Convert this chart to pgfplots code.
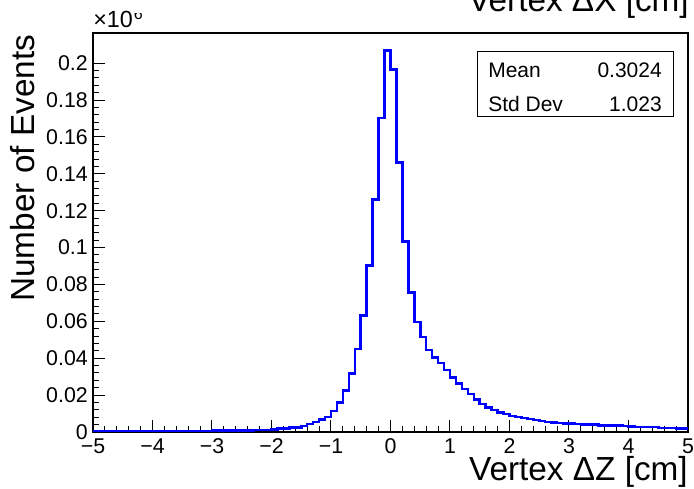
\documentclass[border=0pt]{standalone}
\usepackage{fontspec}
\setmainfont{Liberation Sans}
\usepackage{pgfplots}
\pgfplotsset{compat=1.18}
\definecolor{rootblue}{RGB}{0,0,255}
\begin{document}
\begin{tikzpicture}
\path[use as bounding box] (-69.75pt,-42.75pt) rectangle (450.75pt,324pt);
\begin{axis}[
  scale only axis, width=446.25pt, height=299.25pt,
  at={(0,0)}, anchor=south west,
  xmin=-5, xmax=5, ymin=0, ymax=0.2164,
  axis line style={black, line width=0.8pt},
  xtick={-5,-4,-3,-2,-1,0,1,2,3,4,5},
  xticklabels={−5,−4,−3,−2,−1,0,1,2,3,4,5},
  minor x tick num=4,
  ytick={0,0.02,0.04,0.06,0.08,0.1,0.12,0.14,0.16,0.18,0.2},
  yticklabels={0,0.02,0.04,0.06,0.08,0.1,0.12,0.14,0.16,0.18,0.2},
  minor y tick num=4,
  xtick pos=left, ytick pos=left,
  tick align=inside,
  major tick length=9pt, minor tick length=4.5pt,
  every tick/.style={black, line width=0.75pt},
  tick label style={font=\fontsize{16}{18}\selectfont},
  xticklabel style={anchor=base, yshift=-16.5pt, inner sep=0pt},
  yticklabel style={anchor=east, xshift=-3.75pt, inner sep=0pt},
]
\addplot[const plot, draw=rootblue, line width=1.9pt] table {
x y
-5.0 0.0003
-4.9 0.0003
-4.8 0.0003
-4.7 0.0003
-4.6 0.0003
-4.5 0.0003
-4.4 0.0003
-4.3 0.0003
-4.2 0.0004
-4.1 0.0004
-4.0 0.0004
-3.9 0.0004
-3.8 0.0004
-3.7 0.0004
-3.6 0.0005
-3.5 0.0005
-3.4 0.0006
-3.3 0.0006
-3.2 0.0006
-3.1 0.0006
-3.0 0.0007
-2.9 0.0007
-2.8 0.0007
-2.7 0.0008
-2.6 0.0008
-2.5 0.0008
-2.4 0.0008
-2.3 0.0012
-2.2 0.0012
-2.1 0.0012
-2.0 0.0013
-1.9 0.0018
-1.8 0.0019
-1.7 0.0023
-1.6 0.0024
-1.5 0.0033
-1.4 0.0043
-1.3 0.0054
-1.2 0.0067
-1.1 0.0081
-1.0 0.0114
-0.9 0.0159
-0.8 0.0224
-0.7 0.0318
-0.6 0.0450
-0.5 0.0633
-0.4 0.0902
-0.3 0.1262
-0.2 0.1702
-0.1 0.2068
0.0 0.1967
0.1 0.1461
0.2 0.1034
0.3 0.0758
0.4 0.0597
0.5 0.0514
0.6 0.0445
0.7 0.0405
0.8 0.0373
0.9 0.0336
1.0 0.0296
1.1 0.0264
1.2 0.0233
1.3 0.0206
1.4 0.0177
1.5 0.0152
1.6 0.0134
1.7 0.0119
1.8 0.0107
1.9 0.0098
2.0 0.0088
2.1 0.0081
2.2 0.0076
2.3 0.0070
2.4 0.0065
2.5 0.0060
2.6 0.0055
2.7 0.0051
2.8 0.0049
2.9 0.0047
3.0 0.0046
3.1 0.0043
3.2 0.0042
3.3 0.0041
3.4 0.0040
3.5 0.0036
3.6 0.0035
3.7 0.0034
3.8 0.0034
3.9 0.0033
4.0 0.0029
4.1 0.0028
4.2 0.0027
4.3 0.0027
4.4 0.0026
4.5 0.0022
4.6 0.0021
4.7 0.0021
4.8 0.0020
4.9 0.0020
5.0 0.0020
};
\end{axis}
% multiplier
\node[anchor=base west, font=\fontsize{17.5}{20}\selectfont, inner sep=0pt] at (0pt,303pt) {×10};
\begin{scope}
\clip (0pt,0pt) rectangle (100pt,313.5pt);
\node[anchor=base west, font=\fontsize{12}{14}\selectfont, inner sep=0pt] at (30.5pt,309pt) {6};
\end{scope}
% title (cut off at top)
\node[anchor=base east, font=\fontsize{25}{29}\selectfont, inner sep=0pt] at (447pt,315pt) {Vertex ΔX [cm]};
% stats box
\draw[black, line width=0.75pt, fill=white] (288pt,236.25pt) rectangle (435pt,285pt);
\node[anchor=base west, font=\fontsize{15.75}{18}\selectfont, inner sep=0pt] at (296.25pt,265.5pt) {Mean};
\node[anchor=base east, font=\fontsize{15.75}{18}\selectfont, inner sep=0pt] at (426.75pt,265.5pt) {0.3024};
\node[anchor=base west, font=\fontsize{15.75}{18}\selectfont, inner sep=0pt] at (296.25pt,240pt) {Std Dev};
\node[anchor=base east, font=\fontsize{15.75}{18}\selectfont, inner sep=0pt] at (426.75pt,240pt) {1.023};
% axis titles
\node[anchor=base east, font=\fontsize{25}{29}\selectfont, inner sep=0pt] at (446.25pt,-36.5pt) {Vertex ΔZ [cm]};
\node[rotate=90, anchor=base east, font=\fontsize{25}{29}\selectfont, inner sep=0pt] at (-43.5pt,298pt) {Number of Events};
\end{tikzpicture}
\end{document}
